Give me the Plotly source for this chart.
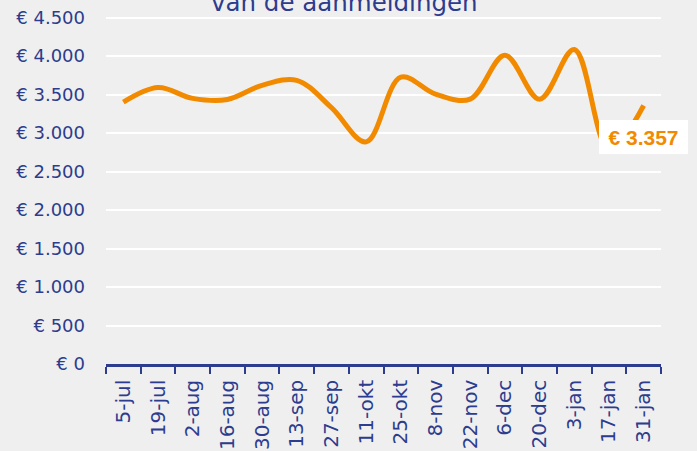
import plotly.graph_objects as go

categories = ["5-jul", "19-jul", "2-aug", "16-aug", "30-aug", "13-sep", "27-sep", "11-okt",
              "25-okt", "8-nov", "22-nov", "6-dec", "20-dec", "3-jan", "17-jan", "31-jan"]
values = [3400, 3590, 3450, 3435, 3620, 3685, 3330, 2885,
          3725, 3505, 3440, 4010, 3440, 4085, 2790, 3357]
y_ticks = [0, 500, 1000, 1500, 2000, 2500, 3000, 3500, 4000, 4500]
y_tick_labels = ["€ 0", "€ 500", "€ 1.000", "€ 1.500", "€ 2.000", "€ 2.500",
                 "€ 3.000", "€ 3.500", "€ 4.000", "€ 4.500"]
title_text = "van de aanmeldingen"

BLUE = "#2c3c8e"
ORANGE = "#f28a00"
BG = "#efefef"

fig = go.Figure()
fig.add_trace(go.Scatter(
    x=categories, y=values, mode="lines",
    line=dict(color=ORANGE, width=5, shape="spline", smoothing=1.0),
    hoverinfo="skip", showlegend=False,
))

last_label = "€ " + f"{values[-1]:,}".replace(",", ".")
fig.add_annotation(
    x=categories[-1], y=2950, xref="x", yref="y",
    text="<b>" + last_label + "</b>", showarrow=False,
    font=dict(family="Liberation Sans", size=21, color=ORANGE),
    bgcolor="white", borderpad=4, borderwidth=0,
    width=81, height=26, xanchor="center", yanchor="middle",
)
fig.add_annotation(
    x=0.43, y=1, xref="paper", yref="paper",
    text=title_text, showarrow=False,
    font=dict(family="DejaVu Sans", size=24.5, color=BLUE),
    xanchor="center", yanchor="bottom", yshift=-3,
)

fig.update_layout(
    width=697, height=451,
    margin=dict(l=106, r=36, t=16, b=87, autoexpand=False),
    paper_bgcolor=BG, plot_bgcolor=BG,
    font=dict(family="DejaVu Sans", color=BLUE),
)
fig.update_xaxes(
    type="category", categoryorder="array", categoryarray=categories,
    range=[-0.5, len(categories) - 0.5], automargin=False,
    tickson="boundaries", ticks="outside", ticklen=7, tickwidth=2, tickcolor=BLUE,
    showline=True, linecolor=BLUE, linewidth=2.5,
    showgrid=False, tickangle=-90, ticklabelstandoff=5,
    tickfont=dict(family="DejaVu Sans", size=20, color=BLUE),
)
fig.update_yaxes(
    range=[0, 4520], tickvals=y_ticks, ticktext=y_tick_labels, automargin=False,
    showgrid=True, gridcolor="white", gridwidth=2,
    zeroline=False, showline=False, ticks="",
    ticklabelstandoff=20,
    tickfont=dict(family="DejaVu Sans", size=18, color=BLUE),
)

fig.write_html(
    "out.html",
    config={"displayModeBar": False},
    post_script="document.body.style.margin='0';document.body.style.overflow='hidden';"
                "document.body.style.background='" + BG + "';",
)
